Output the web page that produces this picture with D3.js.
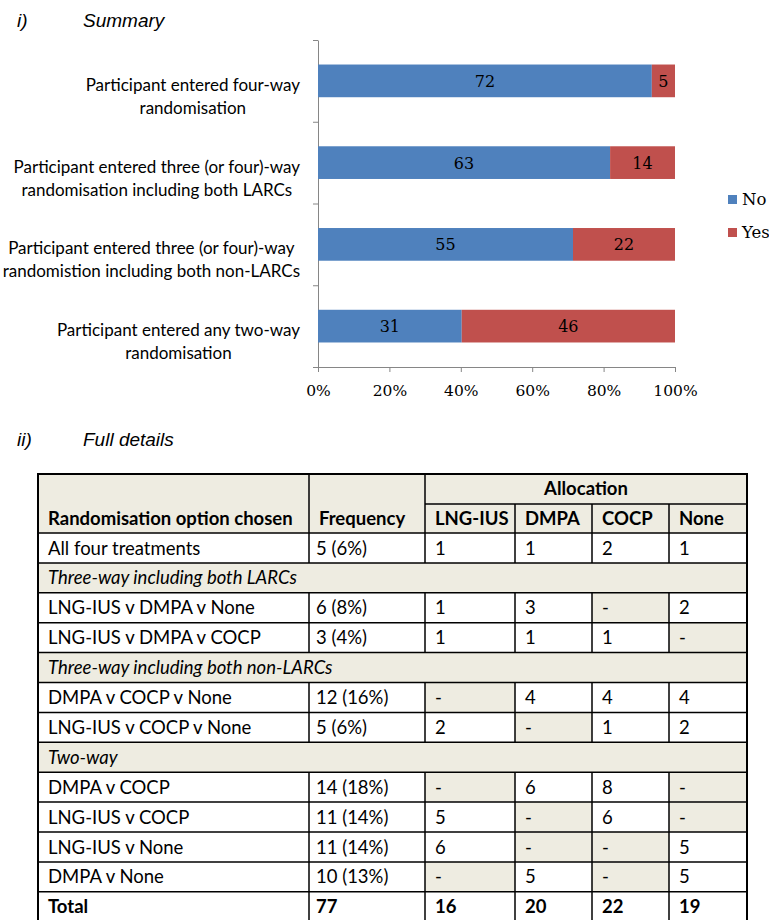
<!DOCTYPE html>
<meta charset="utf-8">
<script src="https://d3js.org/d3.v7.min.js"></script>
<style>
  body { margin: 0; background: #fff; }
</style>
<div id="figure"></div>
<script>

// ---------- summary bar chart data ----------
var categories = ["fourWay", "threeLarc", "threeNonLarc", "twoWay"];
var categoryLines = [
  ["Participant entered four-way", "randomisation"],
  ["Participant entered three (or four)-way", "randomisation including both LARCs"],
  ["Participant entered three (or four)-way", "randomistion including both non-LARCs"],
  ["Participant entered any two-way", "randomisation"]
];
var noValues = [72, 63, 55, 31];
var yesValues = [5, 14, 22, 46];
var seriesNames = ["No", "Yes"];
var xTicks = [0, 0.2, 0.4, 0.6, 0.8, 1];

// ---------- full details table data ----------
var headerLabels = ["Randomisation option chosen", "Frequency"];
var treatments = ["LNG-IUS", "DMPA", "COCP", "None"];
var sectionTitles = ["Three-way including both LARCs", "Three-way including both non-LARCs", "Two-way"];
var optionLabels = ["All four treatments", "LNG-IUS v DMPA v None", "LNG-IUS v DMPA v COCP",
  "DMPA v COCP v None", "LNG-IUS v COCP v None", "DMPA v COCP", "LNG-IUS v COCP",
  "LNG-IUS v None", "DMPA v None"];
var optionSection = [null, 0, 0, 1, 1, 2, 2, 2, 2];
var frequency = [5, 6, 3, 12, 5, 14, 11, 11, 10];
var frequencyPct = [6, 8, 4, 16, 6, 18, 14, 14, 13];
var allocLngIus = [1, 1, 1, null, 2, null, 5, 6, null];
var allocDmpa = [1, 3, 1, 4, null, 6, null, null, 5];
var allocCocp = [2, null, 1, 4, 1, 8, 6, null, null];
var allocNone = [1, 2, null, 4, 2, null, null, 5, 5];
var totals = [77, 16, 20, 22, 19];

var SANS = "Lato, 'Open Sans', sans-serif";
var SERIF = "'DejaVu Serif', serif";
var BLUE = "#4F81BD", RED = "#C0504D", BEIGE = "#EEECE1", AXIS = "#868686";

var svg = d3.select("#figure")
  .append("svg")
    .attr("width", 769)
    .attr("height", 920)
    .style("display", "block");

// section headings
function heading(num, title, y) {
  var g = svg.append("g")
    .style("font-family", "'Liberation Sans', Arial, sans-serif")
    .style("font-style", "italic")
    .style("font-size", "19px");
  g.append("text").attr("x", 17).attr("y", y).text(num);
  g.append("text").attr("x", 83).attr("y", y).text(title);
}
heading("i)", "Summary", 27);
heading("ii)", "Full details", 446);

// ---------- bar chart ----------
var x = d3.scaleLinear().domain([0, 1]).range([318, 675]);
var y = d3.scaleBand().domain(categories).range([40, 367])
  .paddingInner(0.6).paddingOuter(0.3);

var chart = svg.append("g");

// y axis: line with ticks at category boundaries
var yEdges = d3.scaleLinear().domain([0, categories.length]).range([40, 367]);
chart.append("g")
  .attr("transform", "translate(" + x(0) + ",0)")
  .call(d3.axisLeft(yEdges).ticks(categories.length).tickFormat("").tickSize(5).tickSizeOuter(0))
  .call(function(g) { g.selectAll("line, path").attr("stroke", AXIS); });

// x axis
chart.append("g")
  .attr("transform", "translate(0,367)")
  .call(d3.axisBottom(x).tickValues(xTicks).tickFormat(d3.format(".0%")).tickSize(5).tickSizeOuter(0).tickPadding(13))
  .call(function(g) {
    g.selectAll("line, path").attr("stroke", AXIS);
    g.selectAll("text").attr("fill", "#000").style("font-family", SERIF).style("font-size", "15.5px");
  });

// stacked bars
var rowsData = categories.map(function(c, i) {
  var total = noValues[i] + yesValues[i];
  return [
    {cat: c, name: "No", value: noValues[i], x0: 0, x1: noValues[i] / total, color: BLUE},
    {cat: c, name: "Yes", value: yesValues[i], x0: noValues[i] / total, x1: 1, color: RED}
  ];
});
var segs = chart.selectAll("g.seg")
  .data(d3.merge(rowsData))
  .enter().append("g").attr("class", "seg");
segs.append("rect")
  .attr("x", function(d) { return x(d.x0); })
  .attr("y", function(d) { return y(d.cat); })
  .attr("width", function(d) { return x(d.x1) - x(d.x0); })
  .attr("height", y.bandwidth())
  .attr("fill", function(d) { return d.color; });
segs.append("text")
  .attr("x", function(d) { return (x(d.x0) + x(d.x1)) / 2; })
  .attr("y", function(d) { return y(d.cat) + y.bandwidth() / 2 + 6; })
  .attr("text-anchor", "middle")
  .style("font-family", SERIF)
  .style("font-size", "16px")
  .text(function(d) { return d.value; });

// category labels (centred block, right edge near the axis)
categories.forEach(function(c, i) {
  var g = chart.append("g")
    .style("font-family", SANS)
    .style("font-size", "17px");
  var texts = g.selectAll("text")
    .data(categoryLines[i])
    .enter().append("text")
      .attr("text-anchor", "middle")
      .attr("y", function(d, j) { return y(c) + y.bandwidth() / 2 + 10 + j * 23; })
      .text(function(d) { return d; });
  var maxW = d3.max(texts.nodes(), function(n) { return n.getComputedTextLength(); });
  texts.attr("x", 300 - maxW / 2);
});

// legend
var legend = chart.append("g")
  .style("font-family", SERIF)
  .style("font-size", "16.5px");
seriesNames.forEach(function(name, i) {
  legend.append("rect")
    .attr("x", 728).attr("y", 195 + i * 33)
    .attr("width", 9).attr("height", 9)
    .attr("fill", i === 0 ? BLUE : RED);
  legend.append("text")
    .attr("x", 742).attr("y", 205 + i * 33)
    .text(name);
});

// ---------- table ----------
var allocCols = [allocLngIus, allocDmpa, allocCocp, allocNone];
var tableRows = [];
var lastSection = null;
optionLabels.forEach(function(label, i) {
  if (optionSection[i] !== null && optionSection[i] !== lastSection) {
    tableRows.push({type: "section", text: sectionTitles[optionSection[i]]});
    lastSection = optionSection[i];
  }
  tableRows.push({type: "option", cells: [label, frequency[i] + " (" + frequencyPct[i] + "%)"]
    .concat(allocCols.map(function(col) { return col[i]; }))});
});
tableRows.push({type: "total", cells: ["Total"].concat(totals)});

var colEdges = [38, 309, 425, 515, 592, 669, 747];
var tableTop = 474, allocLine = 504, headBottom = 533, rowH = 29.9;
var rowY = d3.scaleBand().domain(d3.range(tableRows.length))
  .range([headBottom, headBottom + tableRows.length * rowH]);

var table = svg.append("g")
  .style("font-family", SANS)
  .style("font-size", "18.5px");

// header background
table.append("rect")
  .attr("x", colEdges[0]).attr("y", tableTop)
  .attr("width", colEdges[6] - colEdges[0]).attr("height", headBottom - tableTop)
  .attr("fill", BEIGE);

// body backgrounds
tableRows.forEach(function(r, i) {
  var top = rowY(i);
  if (r.type === "section") {
    table.append("rect")
      .attr("x", colEdges[0]).attr("y", top)
      .attr("width", colEdges[6] - colEdges[0]).attr("height", rowY.bandwidth())
      .attr("fill", BEIGE);
  } else {
    r.cells.forEach(function(v, k) {
      if (v === null) {
        table.append("rect")
          .attr("x", colEdges[k]).attr("y", top)
          .attr("width", colEdges[k + 1] - colEdges[k]).attr("height", rowY.bandwidth())
          .attr("fill", BEIGE);
      }
    });
  }
});

// header text
var headText = table.append("g").style("font-weight", "bold");
headText.append("text").attr("x", colEdges[0] + 10).attr("y", 525).text(headerLabels[0]);
headText.append("text").attr("x", colEdges[1] + 10).attr("y", 525).text(headerLabels[1]);
headText.append("text").attr("x", (colEdges[2] + colEdges[6]) / 2).attr("y", 495)
  .attr("text-anchor", "middle").text("Allocation");
treatments.forEach(function(t, k) {
  headText.append("text").attr("x", colEdges[k + 2] + 10).attr("y", 525).text(t);
});

// body text
tableRows.forEach(function(r, i) {
  var base = rowY(i) + 21.5;
  if (r.type === "section") {
    table.append("text")
      .attr("x", colEdges[0] + 10).attr("y", base)
      .style("font-style", "italic")
      .text(r.text);
  } else {
    r.cells.forEach(function(v, k) {
      table.append("text")
        .attr("x", colEdges[k] + (k === 1 ? 7 : 10)).attr("y", base)
        .style("font-weight", r.type === "total" ? "bold" : null)
        .text(v === null ? "-" : v);
    });
  }
});

// grid lines
var lines = table.append("g").attr("stroke", "#000").attr("stroke-width", 1.5);
function hline(x1, x2, yy) { lines.append("line").attr("x1", x1).attr("x2", x2).attr("y1", yy).attr("y2", yy); }
function vline(xx, y1, y2) { lines.append("line").attr("x1", xx).attr("x2", xx).attr("y1", y1).attr("y2", y2); }

hline(colEdges[2], colEdges[6], allocLine);
vline(colEdges[1], tableTop, headBottom);
vline(colEdges[2], tableTop, headBottom);
[3, 4, 5].forEach(function(k) { vline(colEdges[k], allocLine, headBottom); });
tableRows.forEach(function(r, i) {
  hline(colEdges[0], colEdges[6], rowY(i));
  if (r.type !== "section") {
    [1, 2, 3, 4, 5].forEach(function(k) { vline(colEdges[k], rowY(i), rowY(i) + rowY.bandwidth()); });
  }
});
hline(colEdges[0], colEdges[6], rowY(tableRows.length - 1) + rowY.bandwidth());
lines.append("rect")
  .attr("x", colEdges[0]).attr("y", tableTop)
  .attr("width", colEdges[6] - colEdges[0])
  .attr("height", rowY(tableRows.length - 1) + rowY.bandwidth() - tableTop)
  .attr("fill", "none").attr("stroke-width", 2);

</script>
